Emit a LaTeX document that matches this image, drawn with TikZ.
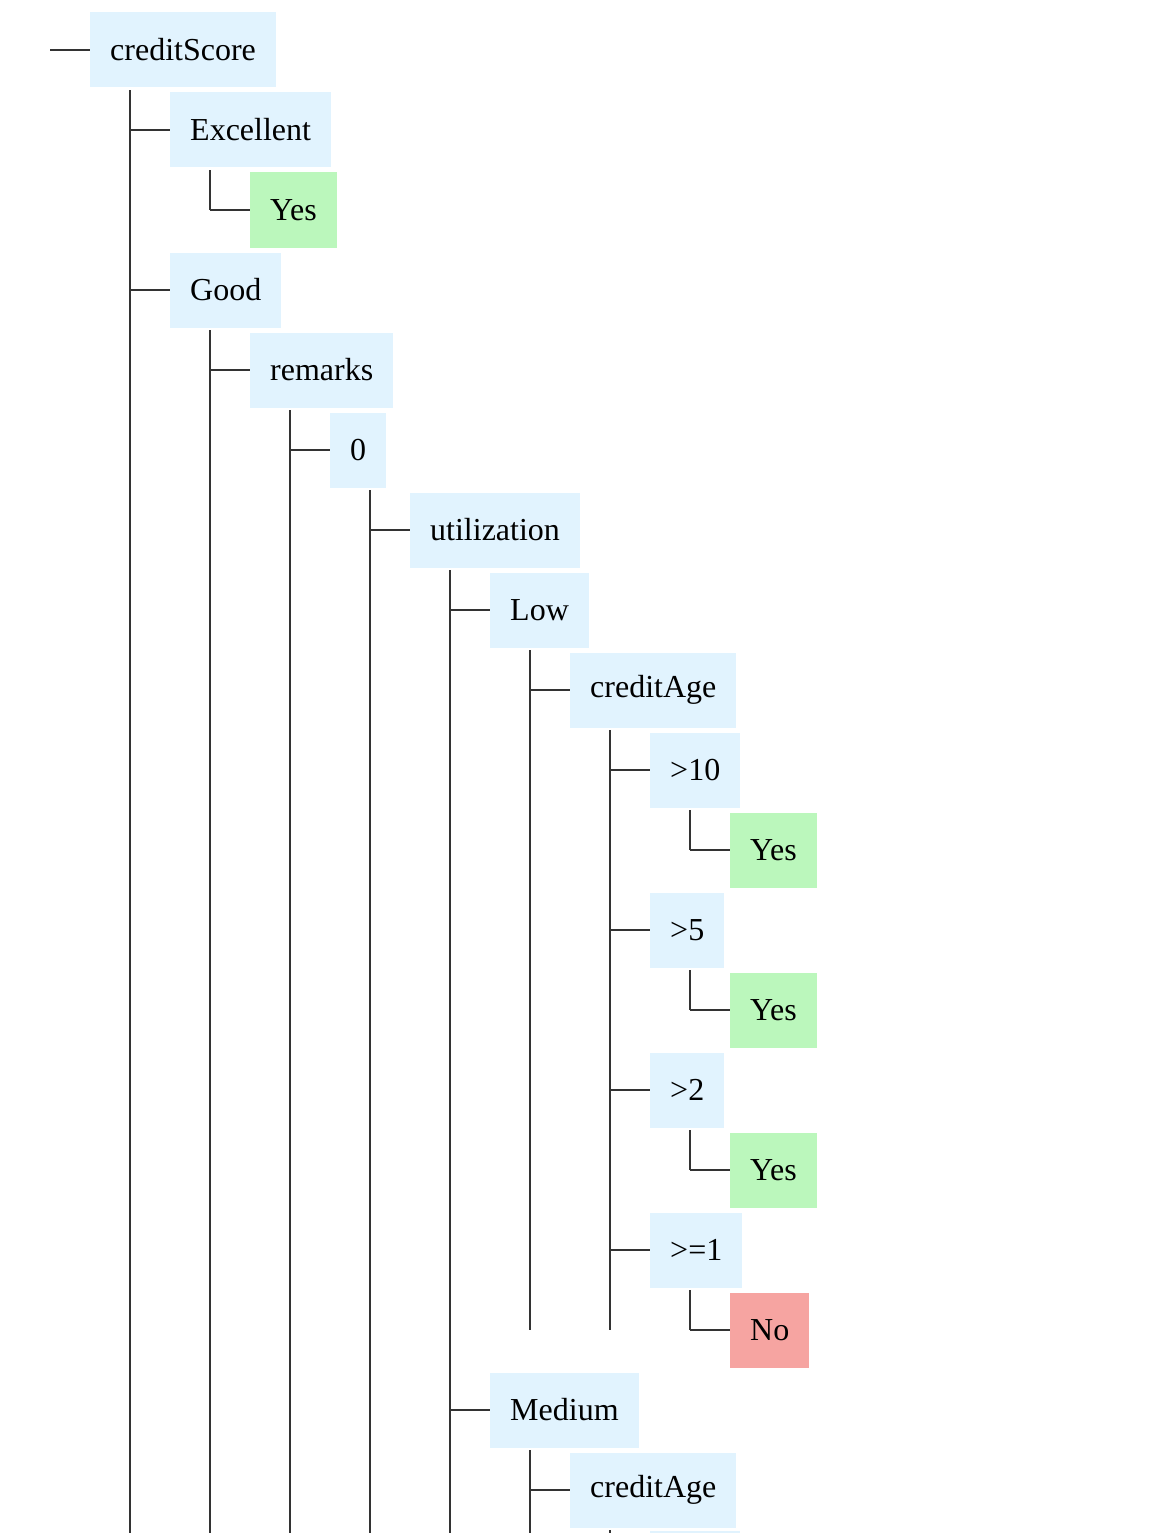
\documentclass[tikz,border=0pt]{standalone}
\usepackage{fontspec}
\setmainfont{Liberation Serif}
\definecolor{nodeblue}{RGB}{225,243,254}
\definecolor{nodegreen}{RGB}{187,247,188}
\definecolor{nodered}{RGB}{246,164,161}
\definecolor{linegray}{RGB}{51,51,51}
\tikzset{
  box/.style={fill=nodeblue, anchor=west, minimum height=75pt, inner xsep=20pt, inner ysep=0pt, font=\fontsize{32}{38}\selectfont, text=black},
  yesbox/.style={box, fill=nodegreen},
  nobox/.style={box, fill=nodered},
  conn/.style={draw=linegray, line width=2pt},
}
\begin{document}
\begin{tikzpicture}[x=1pt,y=-1pt]
\useasboundingbox (0,0) rectangle (1160,1533);
\clip (0,0) rectangle (1160,1533);
% nodes
\node[box] (n0) at (90,50) {creditScore};
\node[box] (n1) at (170,130) {Excellent};
\node[yesbox] (n2) at (250,210) {Yes};
\node[box] (n3) at (170,290) {Good};
\node[box] (n4) at (250,370) {remarks};
\node[box] (n5) at (330,450) {0};
\node[box] (n6) at (410,530) {utilization};
\node[box] (n7) at (490,610) {Low};
\node[box] (n8) at (570,690) {creditAge};
\node[box] (n9) at (650,770) {>10};
\node[yesbox] (n10) at (730,850) {Yes};
\node[box] (n11) at (650,930) {>5};
\node[yesbox] (n12) at (730,1010) {Yes};
\node[box] (n13) at (650,1090) {>2};
\node[yesbox] (n14) at (730,1170) {Yes};
\node[box] (n15) at (650,1250) {>=1};
\node[nobox] (n16) at (730,1330) {No};
\node[box] (n17) at (490,1410) {Medium};
\node[box] (n18) at (570,1490) {creditAge};
\node[box, minimum width=90pt] (n19) at (650,1568) {};
% free ends
\coordinate (root) at (50,50);
\coordinate (bottom) at (0,1545);
% vertical start points
\foreach \p in {0,1,3,4,5,6,7,8,9,11,13,15,17,18}{
  \coordinate (v\p) at ([xshift=40pt,yshift=-2.5pt]n\p.south west);
}
% root line
\draw[conn] (root) -- (n0.west);
% verticals
\draw[conn] (v0) -- (v0 |- bottom);
\draw[conn] (v1) -- (v1 |- n2.west);
\draw[conn] (v3) -- (v3 |- bottom);
\draw[conn] (v4) -- (v4 |- bottom);
\draw[conn] (v5) -- (v5 |- bottom);
\draw[conn] (v6) -- (v6 |- bottom);
\draw[conn] (v7) -- (v7 |- n16.west);
\draw[conn] (v8) -- (v8 |- n16.west);
\draw[conn] (v9) -- (v9 |- n10.west);
\draw[conn] (v11) -- (v11 |- n12.west);
\draw[conn] (v13) -- (v13 |- n14.west);
\draw[conn] (v15) -- (v15 |- n16.west);
\draw[conn] (v17) -- (v17 |- bottom);
\draw[conn] (v18) -- (v18 |- bottom);
% horizontals
\draw[conn] (v0 |- n1.west) -- (n1.west);
\draw[conn] (v1 |- n2.west) -- (n2.west);
\draw[conn] (v0 |- n3.west) -- (n3.west);
\draw[conn] (v3 |- n4.west) -- (n4.west);
\draw[conn] (v4 |- n5.west) -- (n5.west);
\draw[conn] (v5 |- n6.west) -- (n6.west);
\draw[conn] (v6 |- n7.west) -- (n7.west);
\draw[conn] (v7 |- n8.west) -- (n8.west);
\draw[conn] (v8 |- n9.west) -- (n9.west);
\draw[conn] (v9 |- n10.west) -- (n10.west);
\draw[conn] (v8 |- n11.west) -- (n11.west);
\draw[conn] (v11 |- n12.west) -- (n12.west);
\draw[conn] (v8 |- n13.west) -- (n13.west);
\draw[conn] (v13 |- n14.west) -- (n14.west);
\draw[conn] (v8 |- n15.west) -- (n15.west);
\draw[conn] (v15 |- n16.west) -- (n16.west);
\draw[conn] (v6 |- n17.west) -- (n17.west);
\draw[conn] (v17 |- n18.west) -- (n18.west);
\draw[conn] (v18 |- n19.west) -- (n19.west);
\end{tikzpicture}
\end{document}
